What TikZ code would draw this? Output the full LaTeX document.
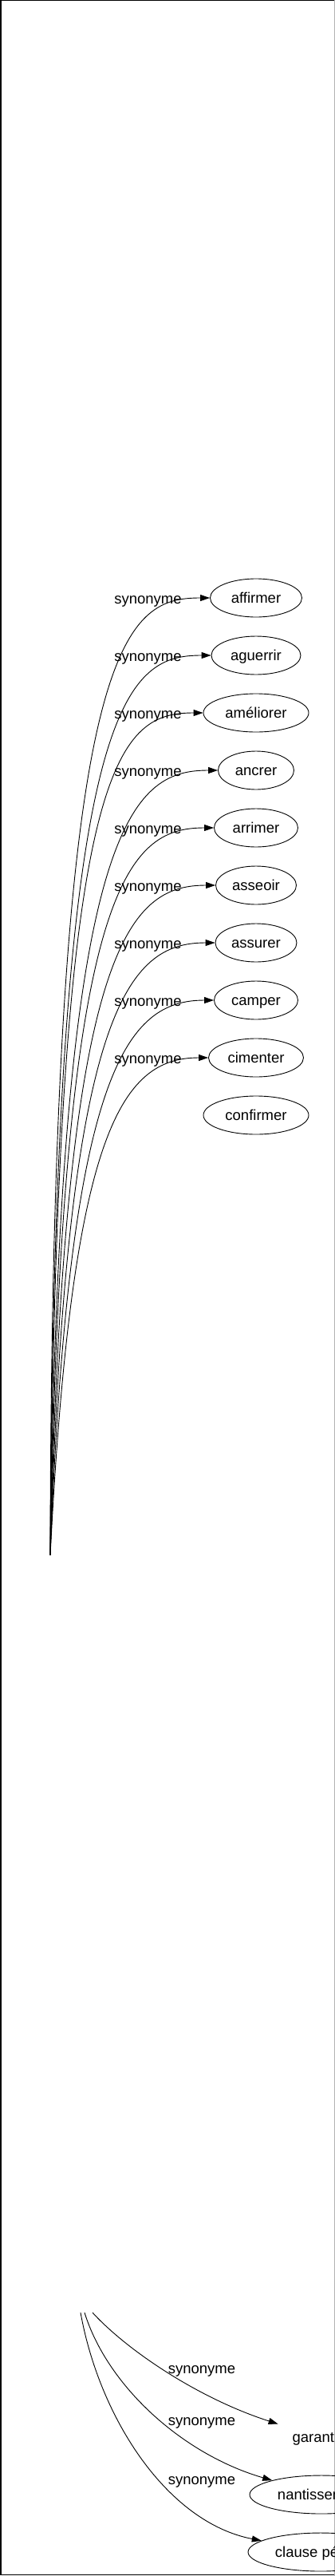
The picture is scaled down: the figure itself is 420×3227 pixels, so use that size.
\documentclass[tikz,border=0pt]{standalone}
\usepackage{fontspec}
\setmainfont{Liberation Sans}
\usetikzlibrary{shapes.geometric,arrows.meta}
\tikzset{
  word/.style={ellipse, draw, line width=0.9pt, minimum height=48pt, inner sep=0pt,
    text height=13.5pt, text depth=0pt},
  lbl/.style={anchor=base},
  rel/.style={line width=0.9pt, -{Triangle[length=12pt,width=8pt]}}
}

\begin{document}
\begin{tikzpicture}[x=1pt, y=-1pt, font=\fontsize{18.5pt}{22pt}\selectfont]
    \useasboundingbox (0,0) rectangle (420,3227);
    \draw[line width=1.5pt] (420,0.75) -- (0.75,0.75) -- (0.75,3225.5) -- (420,3225.5);
    \draw[gray!60, line width=1pt] (419.5,0) -- (419.5,3227);

    \coordinate (Src) at (63, 1948);
    \coordinate (Srca) at (116, 2897);
    \coordinate (Srcb) at (106, 2897);
    \coordinate (Srcc) at (101, 2897);

    \node[word, minimum width=115pt] (Affirmer) at (321, 749) {affirmer};
    \node[word, minimum width=112pt] (Aguerrir) at (321, 821) {aguerrir};
    \node[word, minimum width=132pt] (Ameliorer) at (321, 893) {améliorer};
    \node[word, minimum width=95pt] (Ancrer) at (321, 965) {ancrer};
    \node[word, minimum width=105pt] (Arrimer) at (321, 1037) {arrimer};
    \node[word, minimum width=101pt] (Asseoir) at (321, 1109) {asseoir};
    \node[word, minimum width=102pt] (Assurer) at (321, 1181) {assurer};
    \node[word, minimum width=105pt] (Camper) at (321, 1253) {camper};
    \node[word, minimum width=119pt] (Cimenter) at (321, 1325) {cimenter};
    \node[word, minimum width=132pt] (Confirmer) at (321, 1397) {confirmer};

    \node[word, draw=none, minimum width=138pt] (Garantie) at (400, 3053) {garantie};
    \node[word, minimum width=180pt] (Nantis) at (403, 3125) {nantissement};
    \node[word, minimum width=182pt] (Clause) at (402, 3197) {clause pénale};

    \node[lbl] (LAffirmer) at (185.5, 756) {synonyme};
    \node[lbl] (LAguerrir) at (185.5, 828) {synonyme};
    \node[lbl] (LAmeliorer) at (185.5, 900) {synonyme};
    \node[lbl] (LAncrer) at (185.5, 972) {synonyme};
    \node[lbl] (LArrimer) at (185.5, 1044) {synonyme};
    \node[lbl] (LAsseoir) at (185.5, 1116) {synonyme};
    \node[lbl] (LAssurer) at (185.5, 1188) {synonyme};
    \node[lbl] (LCamper) at (185.5, 1260) {synonyme};
    \node[lbl] (LCimenter) at (185.5, 1332) {synonyme};

    \node[lbl] (LGarantie) at (253, 2973) {synonyme};
    \node[lbl] (LNantis) at (253, 3038) {synonyme};
    \node[lbl] (LClause) at (253, 3112) {synonyme};

    \draw[rel] (Src) .. controls (65, 800) and +(-110, 0) .. (Affirmer.west);
    \draw[rel] (Src) .. controls (68, 878) and +(-110, 0) .. (Aguerrir.west);
    \draw[rel] (Src) .. controls (71, 955) and +(-110, 0) .. (Ameliorer.west);
    \draw[rel] (Src) .. controls (74, 1032) and +(-110, 0) .. (Ancrer.west);
    \draw[rel] (Src) .. controls (77, 1110) and +(-110, 0) .. (Arrimer.west);
    \draw[rel] (Src) .. controls (80.5, 1187) and +(-110, 0) .. (Asseoir.west);
    \draw[rel] (Src) .. controls (83.5, 1265) and +(-110, 0) .. (Assurer.west);
    \draw[rel] (Src) .. controls (86.5, 1342) and +(-110, 0) .. (Camper.west);
    \draw[rel] (Src) .. controls (90, 1420) and +(-110, 0) .. (Cimenter.west);

    \draw[rel] (Srca) .. controls (160, 2945) and (250, 3005) .. (Garantie);
    \draw[rel] (Srcb) .. controls (135, 2990) and (230, 3075) .. (Nantis);
    \draw[rel] (Srcc) .. controls (125, 3030) and (210, 3160) .. (Clause);
\end{tikzpicture}
\end{document}
